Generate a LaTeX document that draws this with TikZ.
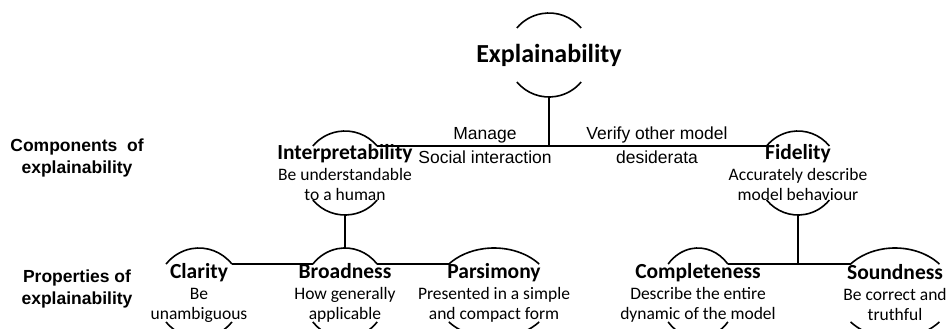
\documentclass[tikz,border=0pt]{standalone}
\usepackage{fontspec}
\setmainfont{Carlito}
\newfontfamily\arialfont{Liberation Sans}
\usetikzlibrary{calc}

\tikzset{
  ring/.style={line width=1.6pt},
  link/.style={line width=1.6pt},
  concept/.style={align=center, inner sep=0pt, font=\fontsize{17.5}{20.5}\selectfont},
  relation/.style={inner sep=0pt, font=\arialfont\fontsize{17.5}{20}\selectfont},
  rowlabel/.style={inner sep=0pt, align=center, font=\arialfont\bfseries\fontsize{17.5}{22}\selectfont}
}
\newcommand{\ctitle}[1]{{\fontsize{21.5}{22}\selectfont\bfseries #1}}
% arcs above and below a concept: name, x radius, y radius
\newcommand{\ringarcs}[3]{%
  \coordinate (#1-tr) at ($(#1.center)+(40:#2 and #3)$);
  \coordinate (#1-tl) at ($(#1.center)+(140:#2 and #3)$);
  \coordinate (#1-top) at ($(#1.center)+(90:#2 and #3)$);
  \coordinate (#1-bot) at ($(#1.center)+(270:#2 and #3)$);
  \draw[ring] (#1-tr) arc[start angle=40, end angle=140, x radius=#2, y radius=#3];
  \draw[ring] ($(#1.center)+(220:#2 and #3)$) arc[start angle=220, end angle=320, x radius=#2, y radius=#3];
}

\begin{document}
\begin{tikzpicture}[x=1pt, y=-1pt]
    \clip (0,0) rectangle (946,329);

    % Concepts
    \node[concept] (expl) at (549,55) {{\fontsize{26}{28}\selectfont\bfseries Explainability}};
    \node[concept] (interp) at (345,173) {\ctitle{Interpretability}\\Be understandable\\to a human};
    \node[concept] (fid) at (798,173) {\ctitle{Fidelity}\\Accurately describe\\model behaviour};

    \node[concept] (clar) at (199,293) {\ctitle{Clarity}\\Be\\unambiguous};
    \node[concept] (broad) at (345,293) {\ctitle{Broadness}\\How generally\\applicable};
    \node[concept] (pars) at (494,293) {\ctitle{Parsimony}\\Presented in a simple\\and compact form};
    \node[concept] (compl) at (698,293) {\ctitle{Completeness}\\Describe the entire\\dynamic of the model};
    \node[concept] (sound) at (895,293) {\ctitle{Soundness}\\Be correct and\\truthful};

    \ringarcs{expl}{42pt}{42pt}
    \ringarcs{interp}{42pt}{42pt}
    \ringarcs{fid}{41pt}{42pt}
    \ringarcs{clar}{43pt}{45pt}
    \ringarcs{broad}{42pt}{45pt}
    \ringarcs{pars}{59pt}{45pt}
    \ringarcs{compl}{39pt}{45pt}
    \ringarcs{sound}{58pt}{45pt}

    % Connectors
    \draw[link] (interp-tr) -| (expl-bot);
    \draw[link] (expl-bot) |- (fid-tl);
    \draw[link] (interp-bot) -- (broad-top);
    \draw[link] (clar-tr) -- (broad-tl);
    \draw[link] (broad-tr) -- (pars-tl);
    \draw[link] (fid-bot) -- (fid-bot |- compl-tr);
    \draw[link] (compl-tr) -- (sound-tl);

    % Relation labels
    \node[relation] (manage) at (485,135) {Manage};
    \node[relation] (social) at (485,157) {Social interaction};
    \node[relation] (verify) at (657,135) {Verify other model};
    \node[relation] (desid) at (657,157) {desiderata};

    % Row labels
    \node[rowlabel] (comprow) at (77,158) {Components\ \ of\\explainability};
    \node[rowlabel] (proprow) at (77,289) {Properties of\\explainability};
\end{tikzpicture}
\end{document}
